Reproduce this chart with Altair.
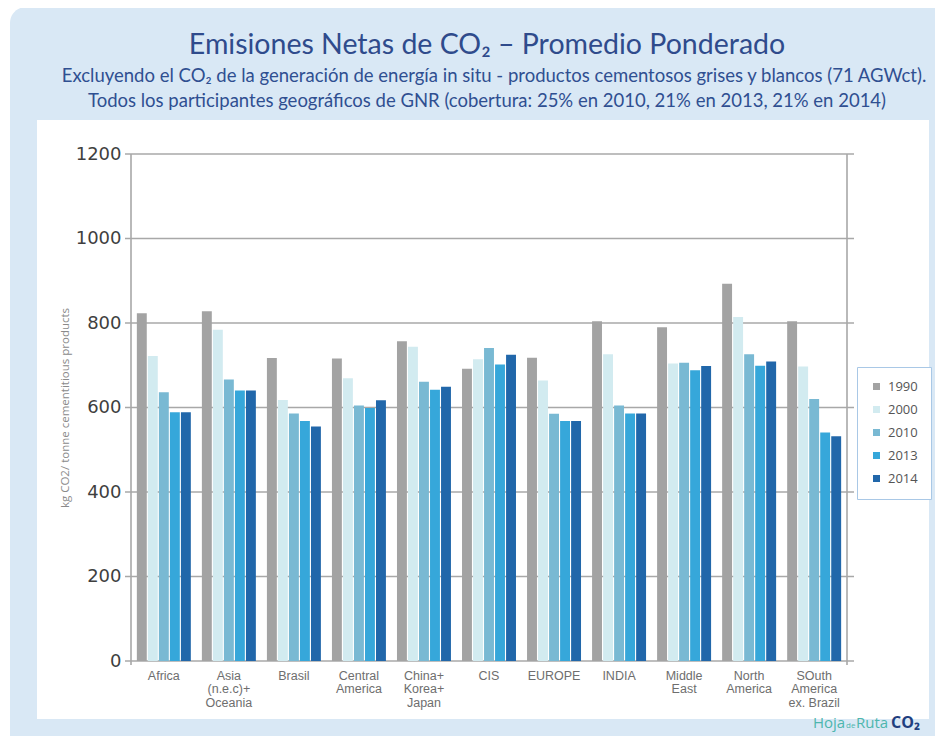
import altair as alt
import pandas as pd

regions = ["Africa", "Asia|(n.e.c)+|Oceania", "Brasil", "Central|America",
           "China+|Korea+|Japan", "CIS", "EUROPE", "INDIA", "Middle|East",
           "North|America", "SOuth|America|ex. Brazil"]
years = ["1990", "2000", "2010", "2013", "2014"]
v1990 = [823, 828, 717, 716, 757, 692, 718, 804, 790, 893, 804]
v2000 = [722, 784, 618, 669, 744, 714, 664, 726, 704, 814, 697]
v2010 = [636, 666, 586, 605, 661, 741, 585, 605, 706, 726, 620]
v2013 = [589, 640, 568, 599, 642, 702, 568, 586, 688, 699, 541]
v2014 = [589, 640, 555, 617, 649, 725, 568, 586, 698, 709, 532]
colors = ["#A3A3A3", "#D2EBF0", "#79B9D3", "#36A7DA", "#2167AA"]
yticks = [0, 200, 400, 600, 800, 1000, 1200]

title_text = "Emisiones Netas de CO₂ – Promedio Ponderado"
subtitle_1 = "Excluyendo el CO₂ de la generación de energía in situ - productos cementosos grises y blancos (71 AGWct)."
subtitle_2 = "Todos los participantes geográficos de GNR (cobertura: 25% en 2010, 21% en 2013, 21% en 2014)"

series = [v1990, v2000, v2010, v2013, v2014]
rows = []
for yr, vals in zip(years, series):
    for r, v in zip(regions, vals):
        rows.append({"region": r, "year": yr, "value": v})
df = pd.DataFrame(rows)
grid_df = pd.DataFrame({"value": yticks})
one = pd.DataFrame({"a": [0]})

W, H = 716, 507
GRID = "#A8A8A8"

yscale = alt.Scale(domain=[0, 1200])
yaxis = alt.Axis(values=yticks, format="d", grid=False, domain=False, ticks=False,
                 labelFont="DejaVu Sans", labelFontSize=18, labelColor="#3f3f3f",
                 labelPadding=10,
                 title="kg CO2/ tonne cementitious products",
                 titleFont="Open Sans", titleFontSize=11.5, titleFontWeight="normal",
                 titleColor="#8a8a8a", titlePadding=5, zindex=1)

bg_blue = alt.Chart(one).mark_rect(color="#D9E8F5", cornerRadius=16).encode(
    x=alt.value(-121), x2=alt.value(820), y=alt.value(-147), y2=alt.value(600))
bg_white = alt.Chart(one).mark_rect(color="white").encode(
    x=alt.value(-94), x2=alt.value(798), y=alt.value(-34), y2=alt.value(565))

grid = alt.Chart(grid_df).mark_rule(color=GRID, strokeWidth=1.6).encode(
    y=alt.Y("value:Q", scale=yscale, axis=yaxis),
    x=alt.value(-6), x2=alt.value(W + 7))

vleft = alt.Chart(one).mark_rule(color=GRID, strokeWidth=1.6).encode(
    x=alt.value(0), y=alt.value(0), y2=alt.value(H + 4))
vright = alt.Chart(one).mark_rule(color=GRID, strokeWidth=1.6).encode(
    x=alt.value(W), y=alt.value(0), y2=alt.value(H + 4))

bars = alt.Chart(df).mark_bar().encode(
    x=alt.X("region:N", sort=regions,
            scale=alt.Scale(paddingInner=0.17, paddingOuter=0.09),
            axis=alt.Axis(title=None, labelExpr="split(datum.label, '|')",
                          labelAngle=0, domain=False, ticks=False,
                          labelFont="Liberation Sans", labelFontSize=12.5,
                          labelColor="#6e6e6e", labelLineHeight=13.5,
                          labelPadding=8, zindex=1)),
    xOffset=alt.XOffset("year:N", sort=years, scale=alt.Scale(paddingInner=0.1)),
    y=alt.Y("value:Q", scale=yscale, axis=yaxis),
    color=alt.Color("year:N", scale=alt.Scale(domain=years, range=colors),
                    legend=alt.Legend(title=None, orient="none", legendX=726, legendY=213,
                                      fillColor="white", strokeColor="#A9C8E6",
                                      padding=13, symbolType="square", symbolSize=49,
                                      symbolStrokeWidth=0, labelFont="Open Sans",
                                      labelFontSize=13, labelColor="#555555",
                                      rowPadding=9, labelOffset=5)),
)


def txt(text, x, y, size, color, font="Lato", weight="normal", align="center",
        baseline="middle"):
    return alt.Chart(one).mark_text(text=text, font=font, fontSize=size, fontWeight=weight,
                                    color=color, align=align, baseline=baseline).encode(
        x=alt.value(x), y=alt.value(y))


t_main = txt(title_text, 356, -109, 28.5, "#2F4B8C")
t_sub1 = txt(subtitle_1, 363, -78, 18.5, "#2F4F91")
t_sub2 = txt(subtitle_2, 356, -53, 18.5, "#2F4F91")

LOGO_Y = 574
logo_hoja = txt("Hoja", 682, LOGO_Y, 15, "#4DB6AE", font="Open Sans", align="left", baseline="alphabetic")
logo_de = txt("de", 715, LOGO_Y, 8, "#4DB6AE", font="Open Sans", align="left", baseline="alphabetic")
logo_ruta = txt("Ruta", 725, LOGO_Y, 15, "#4DB6AE", font="Open Sans", align="left", baseline="alphabetic")
logo_co2 = txt("CO₂", 760, LOGO_Y, 16, "#1F3F7F", font="Open Sans", weight="bold", align="left",
               baseline="alphabetic")

chart = alt.layer(bg_blue, bg_white, grid, vleft, vright, bars,
                  t_main, t_sub1, t_sub2,
                  logo_hoja, logo_de, logo_ruta, logo_co2).properties(
    width=W, height=H,
    autosize=alt.AutoSizeParams(type="none"),
    padding={"left": 123, "top": 146, "right": 88, "bottom": 75},
    background="white",
).configure_view(stroke=None)

chart.save("out.html", embed_options={"renderer": "svg", "actions": False})
